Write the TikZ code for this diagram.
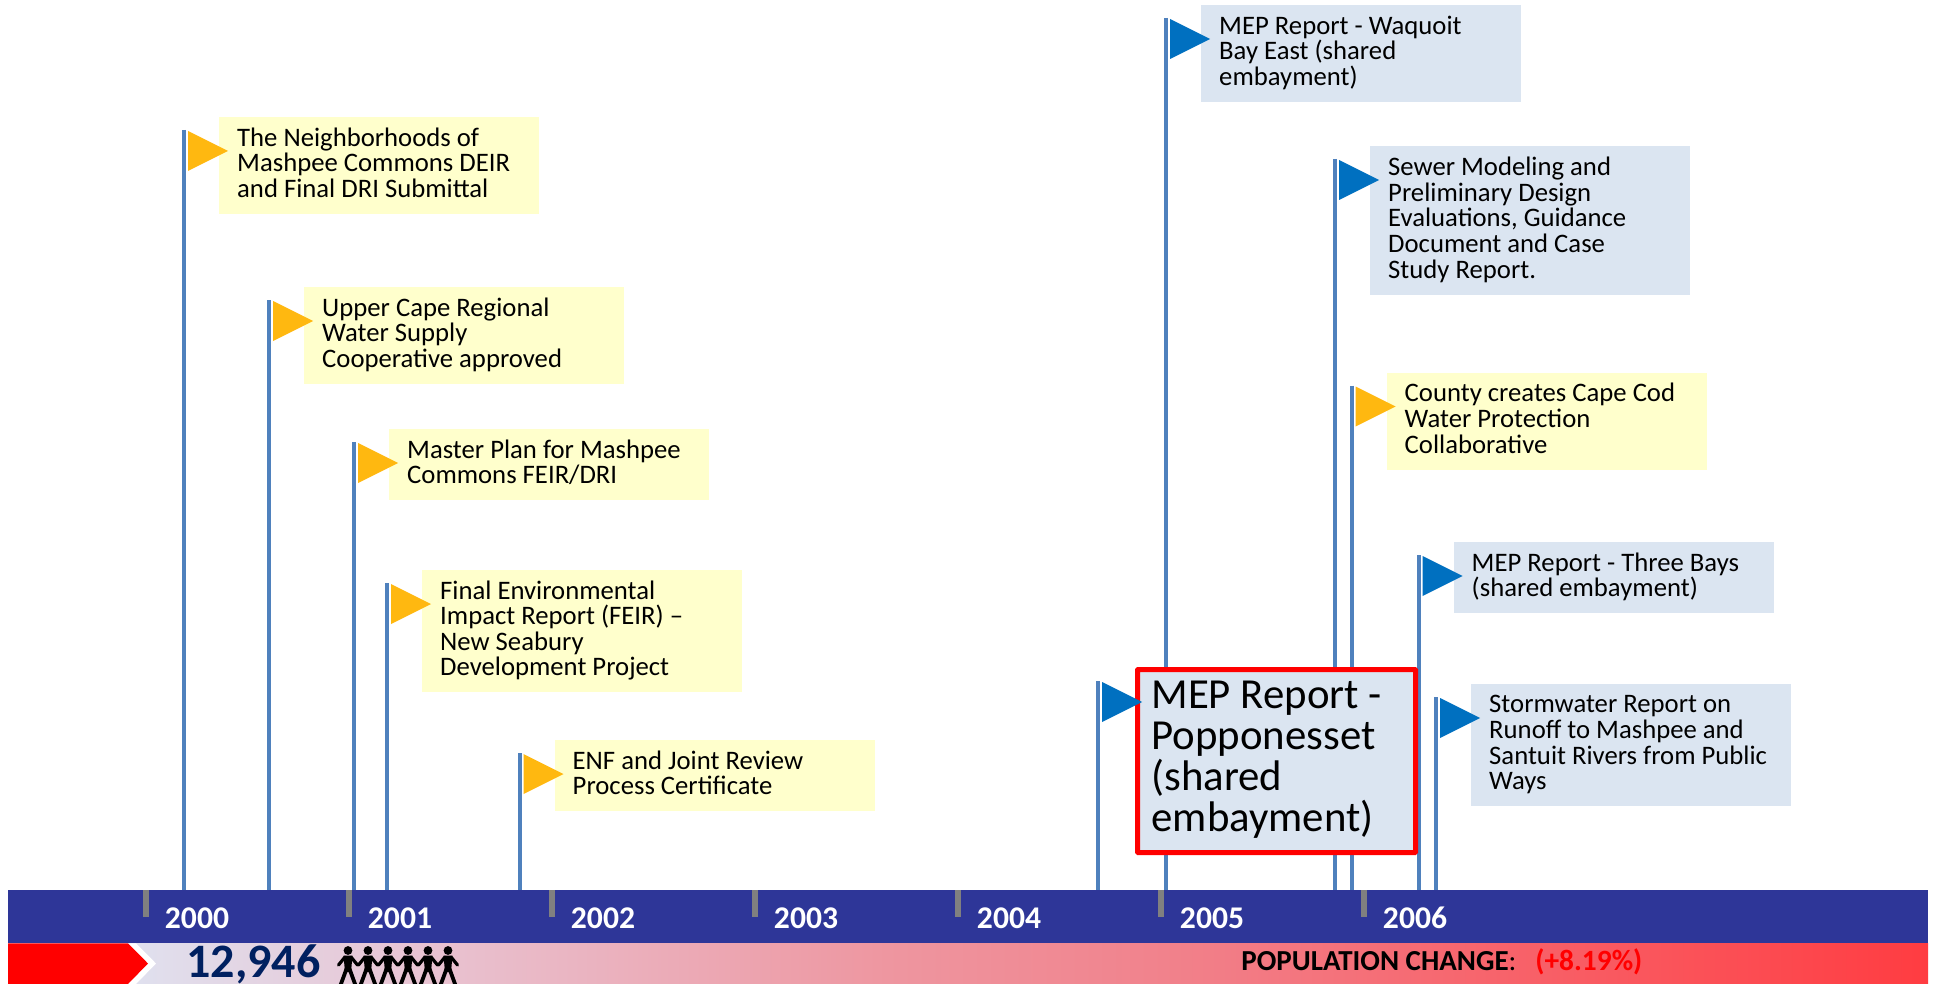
\documentclass[tikz,border=0pt]{standalone}
\usepackage{fontspec}
\setmainfont{Carlito}
\definecolor{barblue}{RGB}{46,54,152}
\definecolor{polecol}{RGB}{79,129,189}
\definecolor{yellowbox}{RGB}{255,255,204}
\definecolor{bluebox}{RGB}{219,229,241}
\definecolor{yellowflag}{RGB}{255,184,16}
\definecolor{blueflag}{RGB}{0,112,192}
\definecolor{navytext}{RGB}{0,32,96}
\definecolor{tickgray}{RGB}{128,128,128}
\pgfdeclarehorizontalshading{popgrad}{100bp}{
 rgb(0bp)=(0.863,0.91,0.965);
 rgb(25bp)=(0.863,0.91,0.965);
 rgb(26.8bp)=(0.871,0.902,0.957);
 rgb(35.4bp)=(0.91,0.773,0.831);
 rgb(47.9bp)=(0.933,0.588,0.627);
 rgb(55.1bp)=(0.945,0.51,0.549);
 rgb(75bp)=(1,0.235,0.255);
 rgb(100bp)=(1,0.235,0.255)}
\tikzset{
 x=0.5pt,y=-0.5pt,
 poleline/.style={draw=polecol,line width=2pt},
 boxnode/.style={anchor=north west,minimum width=160pt,inner sep=0pt,outer sep=0pt},
 labelnode/.style={anchor=west,align=left,inner sep=0pt,font=\fontsize{13.35}{12.8}\selectfont,text=black},
 yearnode/.style={anchor=base,inner sep=0pt,text=white,font=\fontsize{15.8}{16}\selectfont\bfseries},
 tickmark/.style={fill=tickgray},
 redframe/.style={anchor=north west,draw=red,line width=2.5pt,fill=bluebox,inner sep=0pt,outer sep=0pt,minimum width=139pt,minimum height=91.5pt,rounded corners=0.3pt},
}
% name, pole x, pole top, box height, box colour, flag colour, text
\newcommand{\flagitem}[7]{%
 \coordinate (#1top) at (#2,#3);
 \draw[poleline] (#1top) -- (#1top |- bar.north);
 \node[boxnode,fill=#5,minimum height=#4*0.5pt] (#1box) at ({#2+35},{#3-13}) {};
 \fill[#6] ({#2+4},{#3+1}) -- ({#2+44},{#3+21}) -- ({#2+4},{#3+41}) -- cycle;
 \node[labelnode] (#1label) at ([xshift=8.9pt,yshift=-0.6pt]#1box.west) {\rule{0pt}{9pt}#7\rule[-4pt]{0pt}{4pt}};
}
\begin{document}
\begin{tikzpicture}
\useasboundingbox (0,0) rectangle (1937,984);
\fill[white] (0,0) rectangle (1937,984);
% bar
\node[anchor=north west,fill=barblue,minimum width=960pt,minimum height=26.7pt,inner sep=0pt,outer sep=0pt] (bar) at (8,890) {};
% population strip
\shade[shading=popgrad] (8,943.4) rectangle (1928,984);
\fill[white] (8,943.4) -- (136,943.4) -- (156,963.5) -- (136,984) -- (8,984) -- cycle;
\fill[red] (8,943.4) -- (128,943.4) -- (148,963.5) -- (128,984) -- (8,984) -- cycle;
% ticks
\foreach \tx in {146,349,552,755,958,1161,1364}{\fill[tickmark] ({\tx-3},890) rectangle ({\tx+3},917);}
% years
\foreach \yr/\yx in {2000/197,2001/400,2002/603,2003/806,2004/1009,2005/1212,2006/1415}{
 \node[yearnode] (y\yr) at (\yx,928) {\yr};}
% flags
\flagitem{a}{184}{130}{97}{yellowbox}{yellowflag}{The Neighborhoods of\\Mashpee Commons DEIR\\and Final DRI Submittal}
\flagitem{b}{269}{300}{97}{yellowbox}{yellowflag}{Upper Cape Regional\\Water Supply\\Cooperative approved}
\flagitem{c}{354}{442}{71}{yellowbox}{yellowflag}{Master Plan for Mashpee\\Commons FEIR/DRI}
\flagitem{d}{387}{583}{122}{yellowbox}{yellowflag}{Final Environmental\\Impact Report (FEIR) –\\New Seabury\\Development Project}
\flagitem{e}{519.5}{753}{71}{yellowbox}{yellowflag}{ENF and Joint Review\\Process Certificate}
\flagitem{f}{1166}{18}{97}{bluebox}{blueflag}{MEP Report - Waquoit\\Bay East (shared\\embayment)}
\flagitem{g}{1335}{159}{149}{bluebox}{blueflag}{Sewer Modeling and\\Preliminary Design\\Evaluations, Guidance\\Document and Case\\Study Report.}
\flagitem{h}{1351.5}{385.5}{97}{yellowbox}{yellowflag}{County creates Cape Cod\\Water Protection\\Collaborative}
\flagitem{i}{1418.5}{555}{71}{bluebox}{blueflag}{MEP Report - Three Bays\\(shared embayment)}
\flagitem{j}{1436}{697}{122}{bluebox}{blueflag}{Stormwater Report on\\Runoff to Mashpee and\\Santuit Rivers from Public\\Ways}
% highlighted flag
\coordinate (ktop) at (1098,681);
\draw[poleline] (ktop) -- (ktop |- bar.north);
\node[redframe] (kbox) at (1137.5,669.5) {};
\fill[blueflag] (1102,682) -- (1142,702) -- (1102,722) -- cycle;
\node[anchor=north west,align=left,inner sep=0pt,font=\fontsize{21.4}{20.5}\selectfont] (klabel) at ([xshift=6.8pt,yshift=-4.3pt]kbox.north west) {\rule{0pt}{15pt}MEP Report -\\Popponesset\\(shared\\embayment)};
% population
\node[anchor=base west,inner sep=0pt,text=navytext,font=\fontsize{24}{25}\selectfont\bfseries] (popnum) at (186,977.5) {12,946};
\node[anchor=base west,inner sep=0pt,font=\fontsize{14.5}{15}\selectfont] (poplabel) at (1241,970) {\textbf{POPULATION CHANGE}:};
\node[anchor=base west,inner sep=0pt,text=red,font=\fontsize{14.7}{15}\selectfont\bfseries] (popval) at (1535,970) {(+8.19\%)};
% people chain
\foreach \hx in {348,368,388,408,428,448}{
 \fill[black] (\hx,950.5) circle[radius=4.4];
 \fill[black] ({\hx-4.5},955.5) -- ({\hx+4.5},955.5) -- ({\hx+3},972) -- ({\hx-3},972) -- cycle;
 \draw[black,line width=1.6pt,line cap=round,line join=round] ({\hx-9.5},965) -- ({\hx-3},957);
 \draw[black,line width=1.6pt,line cap=round,line join=round] ({\hx+9.5},965) -- ({\hx+3},957);
 \draw[black,line width=1.9pt] ({\hx-1.2},968) -- ({\hx-8.5},988);
 \draw[black,line width=1.9pt] ({\hx+1.2},968) -- ({\hx+8.5},988);
}
\end{tikzpicture}
\end{document}
